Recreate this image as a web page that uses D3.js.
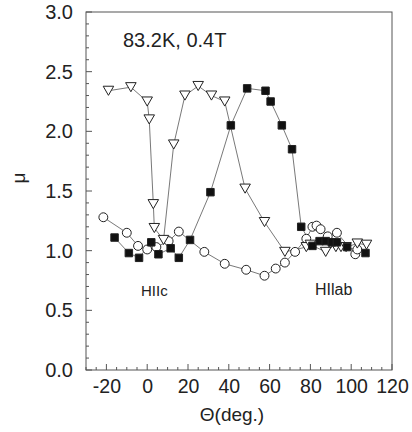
<!DOCTYPE html>
<html>
<head>
<meta charset="utf-8">
<script src="https://cdn.jsdelivr.net/npm/d3@7"></script>
<style>
  body { margin: 0; background: #fff; }
  svg { display: block; }
  text { font-family: "Liberation Sans", Arial, sans-serif; fill: #222; }
</style>
</head>
<body>
<div id="chart"></div>
<script>
// angle (deg) vs mu
const triangleTheta = [-19, -8, 0, 1, 3, 3.5, 8, 13, 18.5, 25, 31.5, 38, 48, 57.5, 67.5, 78, 80, 87.5, 90, 92.5, 95, 97.5, 103, 107.5];
const triangleMu    = [2.34, 2.37, 2.25, 2.10, 1.39, 1.19, 1.09, 1.89, 2.30, 2.38, 2.30, 2.25, 1.52, 1.24, 0.99, 1.03, 1.05, 0.99, 1.06, 1.03, 1.03, 1.03, 1.06, 1.05];

const squareTheta = [-16, -9, -4, 2, 5.5, 11.5, 15.5, 21, 31, 41, 49, 58, 60.5, 66, 71, 75.5, 81, 84.5, 87.5, 90.5, 93, 98, 107];
const squareMu    = [1.11, 0.98, 0.94, 1.07, 0.97, 1.02, 0.94, 1.09, 1.49, 2.05, 2.36, 2.34, 2.25, 2.05, 1.85, 1.20, 1.04, 1.08, 1.08, 1.07, 1.07, 1.03, 0.98];

const circleTheta = [-21.5, -10, -4.5, 0, 4.5, 10.5, 15.5, 28, 38, 48.5, 57.5, 63, 67.5, 72.5, 78, 81, 83, 85, 88.5, 93, 102, 103];
const circleMu    = [1.28, 1.15, 1.04, 1.01, 1.03, 1.08, 1.16, 0.99, 0.89, 0.84, 0.79, 0.85, 0.90, 0.99, 1.10, 1.20, 1.21, 1.18, 1.12, 1.15, 0.97, 1.01];

const xTicks = [-20, 0, 20, 40, 60, 80, 100, 120];
const yTicks = [0, 0.5, 1.0, 1.5, 2.0, 2.5, 3.0];

const width = 412, height = 432;
const margin = { top: 12, right: 20, bottom: 62, left: 86 };

const svg = d3.select('#chart').append('svg')
    .attr('width', width)
    .attr('height', height);

const x = d3.scaleLinear().domain([-30, 120]).range([margin.left, width - margin.right]);
const y = d3.scaleLinear().domain([0, 3]).range([height - margin.bottom, margin.top]);

const frameColor = '#555';

// frame
svg.append('rect')
    .attr('x', x(-30)).attr('y', y(3))
    .attr('width', x(120) - x(-30)).attr('height', y(0) - y(3))
    .attr('fill', 'none')
    .attr('stroke', frameColor)
    .attr('stroke-width', 1);

// minor ticks (pointing inward)
const xMinor = d3.range(-30, 121, 5);
svg.append('g').selectAll('line').data(xMinor).join('line')
    .attr('x1', d => x(d)).attr('x2', d => x(d))
    .attr('y1', y(0)).attr('y2', d => y(0) - (d % 20 === 0 ? 6 : 3))
    .attr('stroke', frameColor).attr('stroke-width', 1);

const yMinor = d3.range(0, 31).map(d => d / 10);
svg.append('g').selectAll('line').data(yMinor).join('line')
    .attr('y1', d => y(d)).attr('y2', d => y(d))
    .attr('x1', x(-30)).attr('x2', (d, i) => x(-30) + (i % 5 === 0 ? 6 : 3))
    .attr('stroke', frameColor).attr('stroke-width', 1);

// axes for labels only (plain hyphen minus, like the original)
const xAxis = svg.append('g')
    .attr('transform', `translate(0,${y(0)})`)
    .call(d3.axisBottom(x).tickValues(xTicks).tickSize(0).tickPadding(9).tickFormat(d => String(d)));
xAxis.select('.domain').remove();
xAxis.selectAll('text').style('font-size', '19.5px');

const yAxis = svg.append('g')
    .attr('transform', `translate(${x(-30)},0)`)
    .call(d3.axisLeft(y).tickValues(yTicks).tickSize(0).tickPadding(13).tickFormat(d => d.toFixed(1)));
yAxis.select('.domain').remove();
yAxis.selectAll('text').style('font-size', '20px');

// axis titles
svg.append('text')
    .attr('x', 232).attr('y', 421)
    .attr('text-anchor', 'middle')
    .style('font-size', '19px')
    .text('\u0398(deg.)');

svg.append('text')
    .attr('transform', 'translate(25,178) rotate(-90)')
    .attr('text-anchor', 'middle')
    .style('font-size', '19px')
    .text('\u03bc');

// annotations
svg.append('text').attr('x', 123).attr('y', 47)
    .style('font-size', '20px').text('83.2K, 0.4T');
svg.append('text').attr('x', 141).attr('y', 296)
    .style('font-size', '15px').text('HIIc');
svg.append('text').attr('x', 315).attr('y', 295)
    .style('font-size', '16px').text('HIlab');

// series
const series = [
    { theta: circleTheta, mu: circleMu, symbol: d3.symbolCircle, size: 62, fill: '#fff', rotate: 0 },
    { theta: triangleTheta, mu: triangleMu, symbol: d3.symbolTriangle, size: 48, fill: '#fff', rotate: 180 },
    { theta: squareTheta, mu: squareMu, symbol: d3.symbolSquare, size: 56, fill: '#111', rotate: 0 }
];

const line = d3.line().x(d => x(d[0])).y(d => y(d[1]));

series.forEach(s => {
    const pts = s.theta.map((t, i) => [t, s.mu[i]]);
    svg.append('path')
        .attr('d', line(pts))
        .attr('fill', 'none')
        .attr('stroke', '#555')
        .attr('stroke-width', 0.8);
});

series.forEach(s => {
    const pts = s.theta.map((t, i) => [t, s.mu[i]]);
    const sym = d3.symbol().type(s.symbol).size(s.size);
    svg.append('g').selectAll('path').data(pts).join('path')
        .attr('d', sym)
        .attr('transform', d => `translate(${x(d[0])},${y(d[1]) + (s.rotate ? -1.5 : 0)}) rotate(${s.rotate})`)
        .attr('fill', s.fill)
        .attr('stroke', '#222')
        .attr('stroke-width', 1);
});
</script>
</body>
</html>
